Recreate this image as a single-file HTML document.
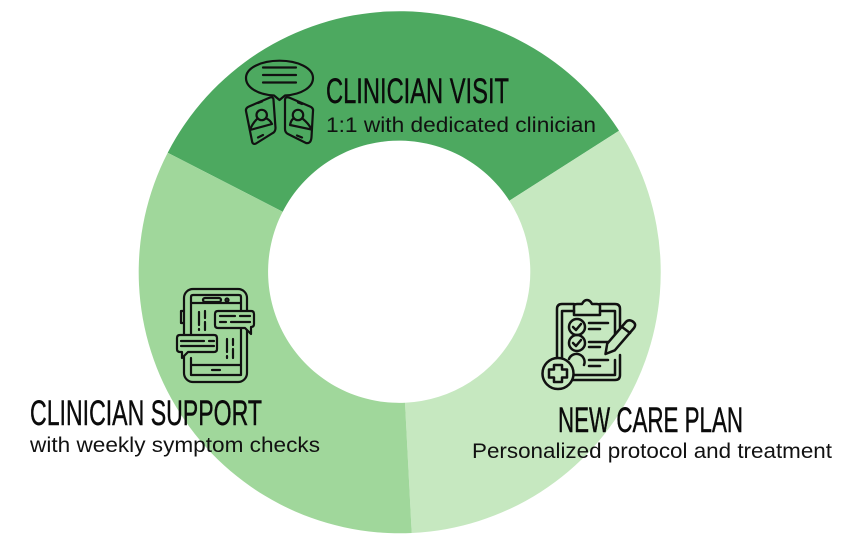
<!DOCTYPE html>
<html><head><meta charset="utf-8">
<style>html,body{margin:0;padding:0;background:#fff}svg{display:block}
.h{font-family:"Liberation Sans",sans-serif;font-size:35px;fill:#0b0b0b;stroke:#0b0b0b;stroke-width:.45px}
.s{font-family:"Liberation Sans",sans-serif;font-size:21.500px;fill:#111}
.i{fill:none;stroke:#111;stroke-width:2.200;stroke-linecap:round;stroke-linejoin:round}
</style></head><body>
<svg width="857" height="539" viewBox="0 0 857 539" xmlns="http://www.w3.org/2000/svg">
<path d="M167.7 152.7A261 261 0 0 1 619 130.7L509.3 200.7A131 131 0 0 0 282.7 211.7Z" fill="#4DA960"/>
<path d="M619 130.7A261 261 0 0 1 411.7 533L405 402.7A131 131 0 0 0 509.3 200.7Z" fill="#C6E8C0"/>
<path d="M411.7 533A261 261 0 0 1 167.7 152.7L282.7 211.7A131 131 0 0 0 405 402.7Z" fill="#A0D79B"/>

<!-- icon 1 -->
<g class="i">
<path d="M274 95.500C257 94.500 246 87 246 78C246 68 261 60.700 279.500 60.700C298 60.700 313 68 313 78C313 87 302 94.500 285 95.500L279.500 100Z"/>
<path d="M263 67.500H296M263 75H296M263 82.500H296"/>
<path d="M249 106.500L270 97.500Q273.500 96.500 273.500 100L275.500 128Q275.500 132 272 133.500L256 143.500Q252.500 145 252 141L246 111Q245.500 108 249 106.500Z"/>
<path d="M258 103L262 101.500M258 137.500L263 135"/>
<circle cx="261.700" cy="115" r="5.200"/>
<path d="M257 119Q252 124 250 130L272 124Q270 120 266.500 118.500"/>
<path d="M289 97.500L310 106.500Q313.500 108 313 111L311.500 137Q311 144 306 143L288 134Q285 132.500 285 129L285 100Q285 96.500 289 97.500Z"/>
<path d="M298 102.500L302 104M297 135.500L302 137.500"/>
<circle cx="298" cy="115" r="5.200"/>
<path d="M293.500 118.500Q291 120 290 125L311.500 129.500Q309 124 303 119"/>
</g>

<!-- icon 2 -->
<g class="i">
<rect x="184" y="289" width="63" height="93" rx="9"/>
<path d="M191 352V303H241V311M241 328V375H191V358"/>
<path d="M191 303V297Q191 295 193 295H239Q241 295 241 297V303M191 365H241"/>
<rect x="203" y="298" width="18" height="4" rx="2"/>
<circle cx="227" cy="300" r="1.500"/>
<path d="M184 311H181V323H184M212 370H220"/>
<path d="M199 312V325M199 329V330M205 311V318M205 322V330"/>
<path d="M227 339V352M227 356V358M233 339V345M233 349V358"/>
<path d="M218 311H251Q254 311 254 314V324Q254 327 251 327V334L245 328H218Q215 328 215 325V314Q215 311 218 311Z" fill="#A0D79B"/>
<path d="M220 316H235M240 316H250M220 322H226M231 322H250"/>
<path d="M180 335H214Q217 335 217 338V349Q217 352 214 352H188L182 358V352H180Q177 352 177 349V338Q177 335 180 335Z" fill="#A0D79B"/>
<path d="M181 341H204M209 341H214M181 346H214"/>
</g>

<!-- icon 3 -->
<g class="i" style="stroke-width:2.500">
<path d="M574 304H562Q557 304 557 309V362M600 304H615Q620 304 620 309V335M620 355V375Q620 380 615 380H573"/>
<path d="M574 311H562V360M600 311H615V342M615 360V375H574"/>
<path d="M574 315V306Q574 304 577 304H582Q584 300 587 300Q590 300 592 304H597Q600 304 600 306V315Z"/>
<circle cx="577" cy="327" r="8"/>
<circle cx="577" cy="343" r="8"/>
<path d="M569 359A8 8 0 0 1 584 365"/>
<path d="M573 327L576 330L581 324M573 343L576 346L581 340"/>
<path d="M589 323H608M589 329H600M589 342H608M589 347H600M589 360H608M589 366H600"/>
<path d="M607.200 343.700L625 323Q628 319 632 321Q637 324 634 328L614.800 350.300L605.500 354Z" fill="#C6E8C0"/>
<path d="M622 327L630 333"/>
<circle cx="558" cy="373.500" r="15.500" fill="#C6E8C0"/>
<path d="M554 365H562V369.500H567V377.500H562V382H554V377.500H549V369.500H554Z"/>
</g>

<text class="h" x="326" y="103" textLength="183" lengthAdjust="spacingAndGlyphs">CLINICIAN VISIT</text>
<text class="s" x="326" y="132" textLength="270" lengthAdjust="spacingAndGlyphs">1:1 with dedicated clinician</text>
<text class="h" x="30" y="425" textLength="232" lengthAdjust="spacingAndGlyphs">CLINICIAN SUPPORT</text>
<text class="s" x="30" y="452" textLength="290" lengthAdjust="spacingAndGlyphs">with weekly symptom checks</text>
<text class="h" x="558" y="432" textLength="185" lengthAdjust="spacingAndGlyphs">NEW CARE PLAN</text>
<text class="s" x="472" y="458" textLength="360" lengthAdjust="spacingAndGlyphs">Personalized protocol and treatment</text>
</svg>
</body></html>
